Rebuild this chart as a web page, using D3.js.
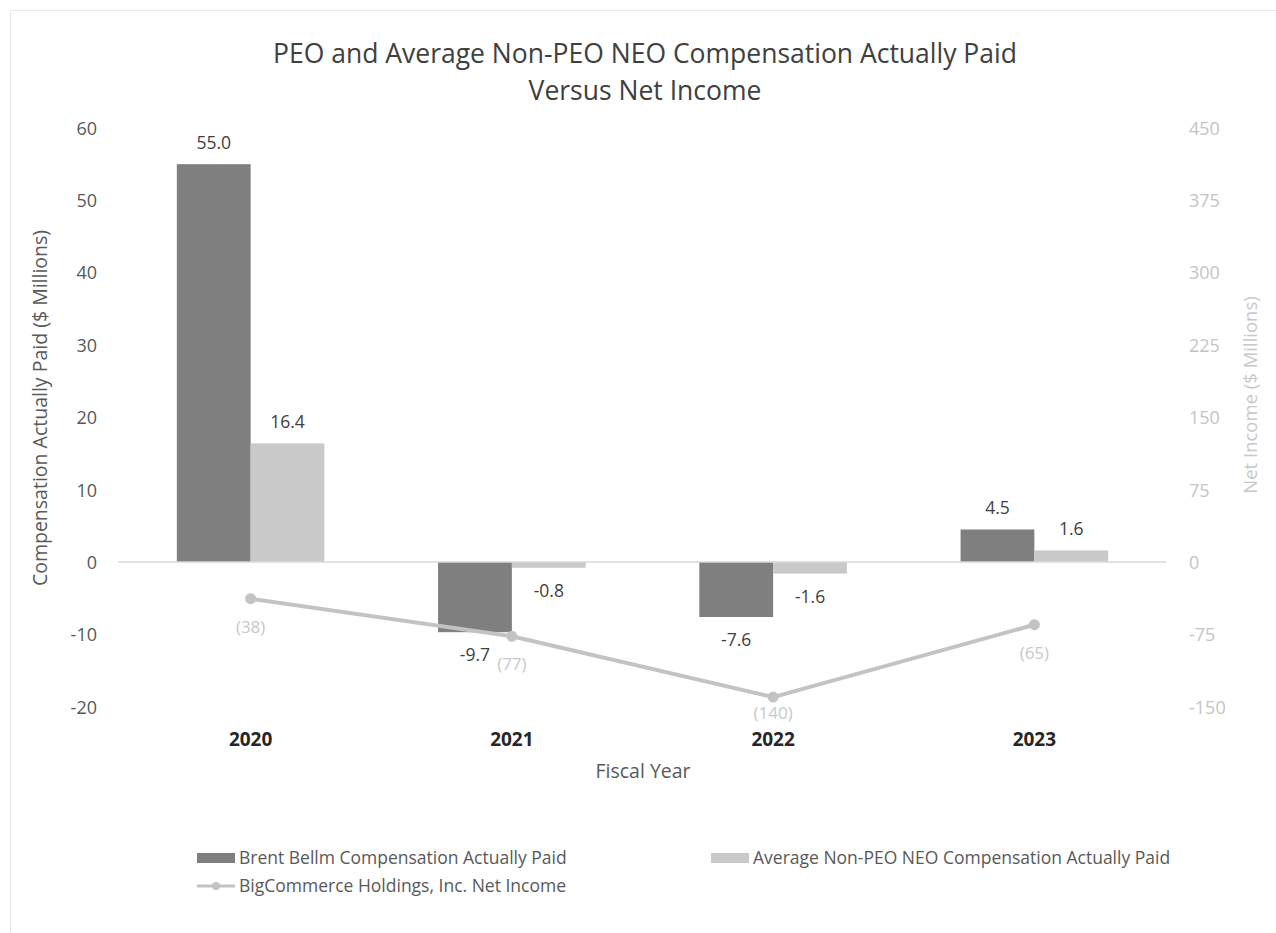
<!DOCTYPE html>
<html>
<head>
<meta charset="utf-8">
<script src="https://cdn.jsdelivr.net/npm/d3@7"></script>
<style>
  body { margin: 0; background: #fff; }
  text { font-family: "Open Sans", sans-serif; }
</style>
</head>
<body>
<svg id="chart" width="1276" height="933"></svg>
<script>
// data
var years = ["2020", "2021", "2022", "2023"];
var peoPaid = [55.0, -9.7, -7.6, 4.5];
var neoPaid = [16.4, -0.8, -1.6, 1.6];
var netIncome = [-38, -77, -140, -65];
var leftTicks = [-20, -10, 0, 10, 20, 30, 40, 50, 60];
var rightTicks = [-150, -75, 0, 75, 150, 225, 300, 375, 450];
var seriesNames = ["Brent Bellm Compensation Actually Paid", "Average Non-PEO NEO Compensation Actually Paid", "BigCommerce Holdings, Inc. Net Income"];

var colors = { peo: "#7f7f7f", neo: "#c9c9c9", line: "#c3c3c3" };

var svg = d3.select("#chart");

// faint frame around the chart (bottom / right run off the page)
svg.append("rect")
  .attr("x", 10.5).attr("y", 10.5)
  .attr("width", 1300).attr("height", 1000)
  .attr("fill", "none").attr("stroke", "#e8e8e8");

var x0 = d3.scaleBand().domain(years).range([120, 1165])
  .paddingInner(0.435).paddingOuter(0.2175);
var x1 = d3.scaleBand().domain(["peo", "neo"]).range([0, x0.bandwidth()]);
var y = d3.scaleLinear().domain([-20, 60]).range([706.7, 128]);
var y2 = d3.scaleLinear().domain([-150, 450]).range([706.7, 128]);

// title
svg.append("text")
  .attr("x", 645).attr("y", 63)
  .attr("text-anchor", "middle")
  .attr("font-size", 26.5).attr("fill", "#404040")
  .selectAll("tspan")
  .data(["PEO and Average Non-PEO NEO Compensation Actually Paid", "Versus Net Income"])
  .enter().append("tspan")
  .attr("x", 645)
  .attr("dy", function(d, i) { return i ? 37 : 0; })
  .text(function(d) { return d; });

// left axis
var yAxis = d3.axisLeft(y).tickValues(leftTicks).tickSize(0).tickPadding(0)
  .tickFormat(function(d) { return String(d); });
svg.append("g")
  .attr("transform", "translate(97,0)")
  .call(yAxis)
  .call(function(g) {
    g.select(".domain").remove();
    g.selectAll("text").attr("font-size", 18).attr("fill", "#595959")
      .style("font-family", "Open Sans, sans-serif").attr("dy", "0.35em");
  });

// right axis
var y2Axis = d3.axisRight(y2).tickValues(rightTicks).tickSize(0).tickPadding(0)
  .tickFormat(function(d) { return String(d); });
svg.append("g")
  .attr("transform", "translate(1189,0)")
  .call(y2Axis)
  .call(function(g) {
    g.select(".domain").remove();
    g.selectAll("text").attr("font-size", 18).attr("fill", "#c4c4c4")
      .style("font-family", "Open Sans, sans-serif").attr("dy", "0.35em");
  });

// axis titles
svg.append("text")
  .attr("transform", "translate(47," + 408 + ") rotate(-90)")
  .attr("text-anchor", "middle")
  .attr("font-size", 19.5).attr("fill", "#595959")
  .text("Compensation Actually Paid ($ Millions)");

svg.append("text")
  .attr("transform", "translate(1257," + 395 + ") rotate(-90)")
  .attr("text-anchor", "middle")
  .attr("font-size", 18.5).attr("fill", "#c8c8c8")
  .text("Net Income ($ Millions)");

// bars
var groups = svg.selectAll(".year")
  .data(years)
  .enter().append("g")
  .attr("class", "year")
  .attr("transform", function(d) { return "translate(" + x0(d) + ",0)"; });

groups.each(function(d, i) {
  var g = d3.select(this);
  var vals = [{ k: "peo", v: peoPaid[i] }, { k: "neo", v: neoPaid[i] }];
  g.selectAll("rect").data(vals).enter().append("rect")
    .attr("x", function(e) { return x1(e.k); })
    .attr("y", function(e) { return y(Math.max(0, e.v)); })
    .attr("width", x1.bandwidth())
    .attr("height", function(e) { return Math.abs(y(e.v) - y(0)); })
    .attr("fill", function(e) { return colors[e.k]; });
});

// zero line
svg.append("line")
  .attr("x1", 118).attr("x2", 1166)
  .attr("y1", y(0)).attr("y2", y(0))
  .attr("stroke", "#d9d9d9").attr("stroke-width", 1.5);

// net income line
var cx = function(i) { return x0(years[i]) + x0.bandwidth() / 2; };
var line = d3.line()
  .x(function(d, i) { return cx(i); })
  .y(function(d) { return y2(d); });

svg.append("path")
  .datum(netIncome)
  .attr("d", line)
  .attr("fill", "none")
  .attr("stroke", colors.line)
  .attr("stroke-width", 4)
  .attr("stroke-linejoin", "round");

svg.selectAll(".pt")
  .data(netIncome)
  .enter().append("circle")
  .attr("class", "pt")
  .attr("cx", function(d, i) { return cx(i); })
  .attr("cy", function(d) { return y2(d); })
  .attr("r", 5.5)
  .attr("fill", colors.line);

// bar value labels
var labelData = [];
years.forEach(function(yr, i) {
  labelData.push({ yr: yr, k: "peo", v: peoPaid[i] });
  labelData.push({ yr: yr, k: "neo", v: neoPaid[i] });
});
svg.selectAll(".blabel")
  .data(labelData)
  .enter().append("text")
  .attr("class", "blabel")
  .attr("x", function(d) { return x0(d.yr) + x1(d.k) + x1.bandwidth() / 2; })
  .attr("y", function(d) { return d.v >= 0 ? y(d.v) - 15 : y(d.v) + 29; })
  .attr("text-anchor", "middle")
  .attr("font-size", 17.5).attr("fill", "#404040")
  .text(function(d) { return d.v.toFixed(1); });

// net income labels, kept clear of the year labels
svg.selectAll(".nlabel")
  .data(netIncome)
  .enter().append("text")
  .attr("class", "nlabel")
  .attr("x", function(d, i) { return cx(i); })
  .attr("y", function(d) { return Math.min(y2(d) + 34, 719); })
  .attr("text-anchor", "middle")
  .attr("font-size", 17).attr("fill", "#c8c8c8")
  .text(function(d) { return "(" + Math.abs(d) + ")"; });

// x category labels
svg.selectAll(".xlabel")
  .data(years)
  .enter().append("text")
  .attr("class", "xlabel")
  .attr("x", function(d) { return x0(d) + x0.bandwidth() / 2; })
  .attr("y", 746)
  .attr("text-anchor", "middle")
  .attr("font-size", 19).attr("font-weight", "bold").attr("fill", "#262626")
  .text(function(d) { return d; });

svg.append("text")
  .attr("x", 643).attr("y", 778)
  .attr("text-anchor", "middle")
  .attr("font-size", 19.5).attr("fill", "#595959")
  .text("Fiscal Year");

// legend
var legend = [
  { name: seriesNames[0], type: "bar", color: colors.peo, x: 197, y: 858 },
  { name: seriesNames[1], type: "bar", color: colors.neo, x: 711, y: 858 },
  { name: seriesNames[2], type: "line", color: colors.line, x: 197, y: 886 }
];
var lg = svg.selectAll(".lg").data(legend).enter().append("g")
  .attr("class", "lg")
  .attr("transform", function(d) { return "translate(" + d.x + "," + d.y + ")"; });
lg.each(function(d) {
  var g = d3.select(this);
  if (d.type === "bar") {
    g.append("rect").attr("x", 0).attr("y", -5).attr("width", 38).attr("height", 10).attr("fill", d.color);
  } else {
    g.append("line").attr("x1", 0).attr("x2", 38).attr("y1", 0).attr("y2", 0)
      .attr("stroke", d.color).attr("stroke-width", 3);
    g.append("circle").attr("cx", 19).attr("cy", 0).attr("r", 4).attr("fill", d.color);
  }
  g.append("text").attr("x", 42).attr("y", 0).attr("dy", "0.35em")
    .attr("font-size", 17.5).attr("fill", "#595959")
    .text(d.name);
});
</script>
</body>
</html>
